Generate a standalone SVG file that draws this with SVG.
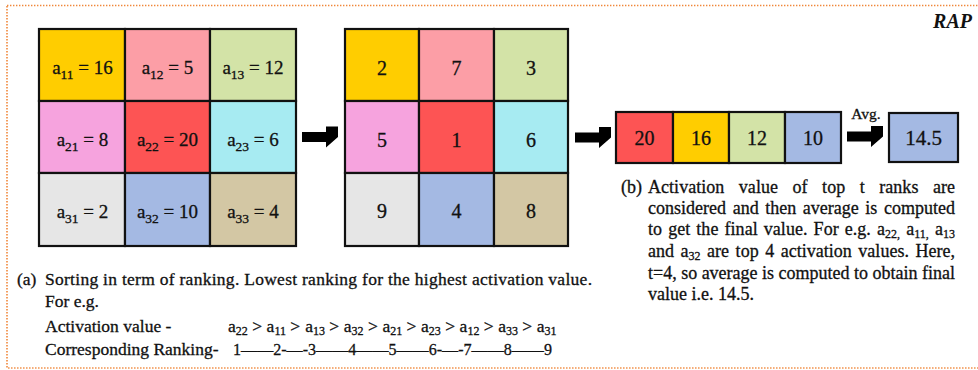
<svg xmlns="http://www.w3.org/2000/svg" width="978" height="370" viewBox="0 0 978 370">
<style>
text{font-family:"Liberation Serif","Times New Roman",serif;fill:#111;stroke:#111;stroke-width:0.3}
.cell{stroke:#111;stroke-width:2.2}
.lbl{font-size:19px}
.num{font-size:20px}
.sub{font-size:13.5px}
.s2{font-size:12px}
.da{font-size:17.5px}
.db{font-size:18px}
.arrow{fill:#000}
</style>
<defs>
<path id="arr" d="M0,-5 H24 V-10.5 H36 L36,0 L24,10.5 V5 H0 Z"/>
</defs>
<rect x="7" y="5.5" width="990" height="362.5" fill="none" stroke="#F0873A" stroke-width="1.6" stroke-dasharray="1.4 1.6"/>
<text x="972" y="28" text-anchor="end" style="font-size:20px;font-style:italic;font-weight:bold;stroke-width:0">RAP</text>

<g id="grid1">
<g id="a11"><rect class="cell" x="39" y="29" width="86" height="72" fill="#FFCD00"/><text class="lbl" x="82.5" y="74" text-anchor="middle">a<tspan class="sub" dy="5">11</tspan><tspan dy="-5"> = 16</tspan></text></g>
<g id="a12"><rect class="cell" x="125" y="29" width="85" height="72" fill="#FC9EA6"/><text class="lbl" x="167.5" y="74" text-anchor="middle">a<tspan class="sub" dy="5">12</tspan><tspan dy="-5"> = 5</tspan></text></g>
<g id="a13"><rect class="cell" x="210" y="29" width="86" height="72" fill="#D3E3A7"/><text class="lbl" x="253" y="74" text-anchor="middle">a<tspan class="sub" dy="5">13</tspan><tspan dy="-5"> = 12</tspan></text></g>
<g id="a21"><rect class="cell" x="39" y="101" width="86" height="72" fill="#F6A3DE"/><text class="lbl" x="82.5" y="146" text-anchor="middle">a<tspan class="sub" dy="5">21</tspan><tspan dy="-5"> = 8</tspan></text></g>
<g id="a22"><rect class="cell" x="125" y="101" width="85" height="72" fill="#FD5454"/><text class="lbl" x="167.5" y="146" text-anchor="middle">a<tspan class="sub" dy="5">22</tspan><tspan dy="-5"> = 20</tspan></text></g>
<g id="a23"><rect class="cell" x="210" y="101" width="86" height="72" fill="#A7EBF2"/><text class="lbl" x="253" y="146" text-anchor="middle">a<tspan class="sub" dy="5">23</tspan><tspan dy="-5"> = 6</tspan></text></g>
<g id="a31"><rect class="cell" x="39" y="173" width="86" height="73" fill="#E6E6E6"/><text class="lbl" x="82.5" y="218" text-anchor="middle">a<tspan class="sub" dy="5">31</tspan><tspan dy="-5"> = 2</tspan></text></g>
<g id="a32"><rect class="cell" x="125" y="173" width="85" height="73" fill="#A4B9E3"/><text class="lbl" x="167.5" y="218" text-anchor="middle">a<tspan class="sub" dy="5">32</tspan><tspan dy="-5"> = 10</tspan></text></g>
<g id="a33"><rect class="cell" x="210" y="173" width="86" height="73" fill="#D3C7A4"/><text class="lbl" x="253" y="218" text-anchor="middle">a<tspan class="sub" dy="5">33</tspan><tspan dy="-5"> = 4</tspan></text></g>
</g>

<g id="grid2">
<g id="r11"><rect class="cell" x="345" y="29" width="74" height="72" fill="#FFCD00"/><text class="num" x="382" y="75" text-anchor="middle">2</text></g>
<g id="r12"><rect class="cell" x="419" y="29" width="75" height="72" fill="#FC9EA6"/><text class="num" x="456.5" y="75" text-anchor="middle">7</text></g>
<g id="r13"><rect class="cell" x="494" y="29" width="74" height="72" fill="#D3E3A7"/><text class="num" x="531" y="75" text-anchor="middle">3</text></g>
<g id="r21"><rect class="cell" x="345" y="101" width="74" height="72" fill="#F6A3DE"/><text class="num" x="382" y="147" text-anchor="middle">5</text></g>
<g id="r22"><rect class="cell" x="419" y="101" width="75" height="72" fill="#FD5454"/><text class="num" x="456.5" y="147" text-anchor="middle">1</text></g>
<g id="r23"><rect class="cell" x="494" y="101" width="74" height="72" fill="#A7EBF2"/><text class="num" x="531" y="147" text-anchor="middle">6</text></g>
<g id="r31"><rect class="cell" x="345" y="173" width="74" height="73" fill="#E6E6E6"/><text class="num" x="382" y="218" text-anchor="middle">9</text></g>
<g id="r32"><rect class="cell" x="419" y="173" width="75" height="73" fill="#A4B9E3"/><text class="num" x="456.5" y="218" text-anchor="middle">4</text></g>
<g id="r33"><rect class="cell" x="494" y="173" width="74" height="73" fill="#D3C7A4"/><text class="num" x="531" y="218" text-anchor="middle">8</text></g>
</g>

<g id="top4">
<g id="v20"><rect class="cell" x="616" y="112" width="57" height="51" fill="#FD5454"/><text class="num" x="644.5" y="145" text-anchor="middle">20</text></g>
<g id="v16"><rect class="cell" x="673" y="112" width="56" height="51" fill="#FFCD00"/><text class="num" x="701" y="145" text-anchor="middle">16</text></g>
<g id="v12"><rect class="cell" x="729" y="112" width="56" height="51" fill="#D3E3A7"/><text class="num" x="757" y="145" text-anchor="middle">12</text></g>
<g id="v10"><rect class="cell" x="785" y="112" width="56" height="51" fill="#A4B9E3"/><text class="num" x="813" y="145" text-anchor="middle">10</text></g>
</g>
<g id="result"><rect class="cell" x="889" y="113" width="69" height="49" fill="#A4B9E3"/><text class="num" x="923.5" y="145" text-anchor="middle" style="font-size:21px">14.5</text></g>

<g id="connectors">
<use href="#arr" class="arrow" transform="translate(302,137)"/>
<use href="#arr" class="arrow" transform="translate(575,137.5)"/>
<use href="#arr" class="arrow" transform="translate(847,136.5)"/>
<text x="866" y="119" text-anchor="middle" style="font-size:15.5px">Avg.</text>
</g>

<g id="captionA">
<text x="17" y="285" class="da">(a)</text>
<text x="45" y="285" class="da" textLength="547" lengthAdjust="spacing">Sorting in term of ranking. Lowest ranking for the highest activation value.</text>
<text x="45" y="307" class="da">For e.g.</text>
<text x="45" y="331.5" class="da">Activation value -</text>
<text x="45" y="354.5" class="da">Corresponding Ranking-</text>
<text x="228" y="331.5" class="da">a<tspan class="s2" dy="3.5">22</tspan><tspan dy="-3.5"> &gt;</tspan></text>
<text x="266.6" y="331.5" class="da">a<tspan class="s2" dy="3.5">11</tspan><tspan dy="-3.5"> &gt;</tspan></text>
<text x="305.2" y="331.5" class="da">a<tspan class="s2" dy="3.5">13</tspan><tspan dy="-3.5"> &gt;</tspan></text>
<text x="343.8" y="331.5" class="da">a<tspan class="s2" dy="3.5">32</tspan><tspan dy="-3.5"> &gt;</tspan></text>
<text x="382.4" y="331.5" class="da">a<tspan class="s2" dy="3.5">21</tspan><tspan dy="-3.5"> &gt;</tspan></text>
<text x="421" y="331.5" class="da">a<tspan class="s2" dy="3.5">23</tspan><tspan dy="-3.5"> &gt;</tspan></text>
<text x="459.6" y="331.5" class="da">a<tspan class="s2" dy="3.5">12</tspan><tspan dy="-3.5"> &gt;</tspan></text>
<text x="498.2" y="331.5" class="da">a<tspan class="s2" dy="3.5">33</tspan><tspan dy="-3.5"> &gt;</tspan></text>
<text x="536.8" y="331.5" class="da">a<tspan class="s2" dy="3.5">31</tspan></text>
<text x="233" y="354.5" class="da" textLength="319" lengthAdjust="spacingAndGlyphs">1——2-—-3——4——5——6-—-7——8——9</text>
</g>

<g id="captionB">
<text x="621" y="193" class="db">(b)</text>
<text x="648" y="193" class="db" word-spacing="10" textLength="307" lengthAdjust="spacing">Activation value of top t ranks are</text>
<text x="648" y="214" class="db" word-spacing="2" textLength="307" lengthAdjust="spacing">considered and then average is computed</text>
<text x="648" y="235" class="db" word-spacing="1.5" textLength="307" lengthAdjust="spacing">to get the final value. For e.g. a<tspan class="s2" dy="3">22,</tspan><tspan dy="-3"> a</tspan><tspan class="s2" dy="3">11,</tspan><tspan dy="-3"> a</tspan><tspan class="s2" dy="3">13</tspan></text>
<text x="648" y="256.5" class="db" word-spacing="2" textLength="307" lengthAdjust="spacing">and a<tspan class="s2" dy="3">32</tspan><tspan dy="-3"> are top 4 activation values. Here,</tspan></text>
<text x="648" y="278.5" class="db" textLength="307" lengthAdjust="spacing">t=4, so average is computed to obtain final</text>
<text x="648" y="299.5" class="db">value i.e. 14.5.</text>
</g>
</svg>
